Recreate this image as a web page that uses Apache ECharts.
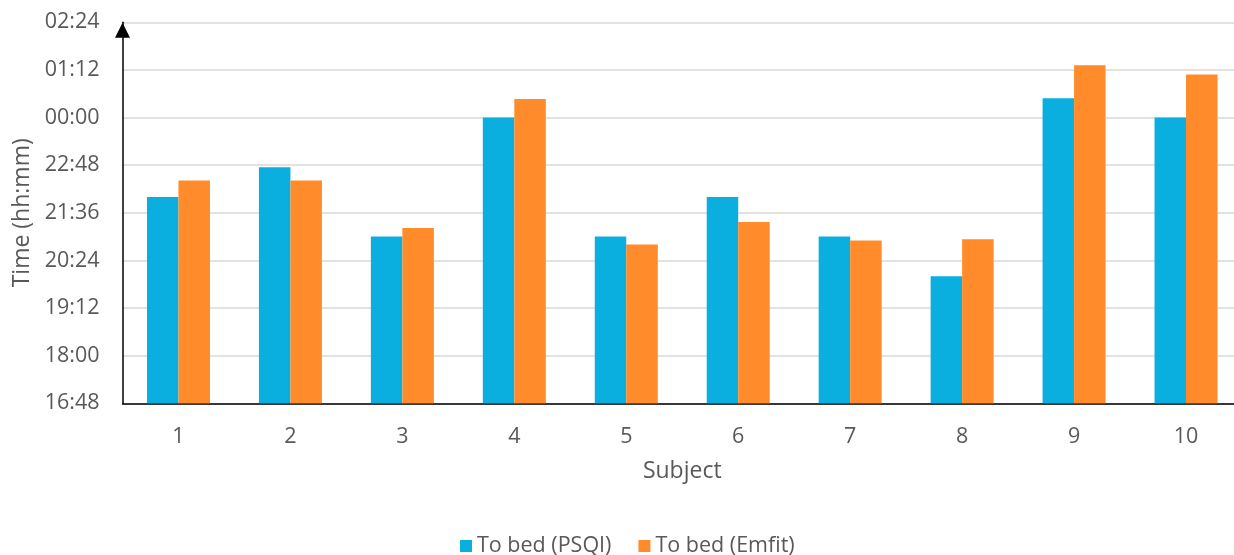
<!DOCTYPE html>
<html>
<head>
<meta charset="utf-8">
<script src="https://cdn.jsdelivr.net/npm/echarts@6/dist/echarts.min.js"></script>
<style>
html,body{margin:0;padding:0;background:#fff;}
#chart{width:1234px;height:555px;}
</style>
</head>
<body>
<div id="chart"></div>
<script>
// Data
var subjects = ['1','2','3','4','5','6','7','8','9','10'];
var toBedPSQI  = ['22:00','22:45','21:00','00:00','21:00','22:00','21:00','20:00','00:29','00:00'];
var toBedEmfit = ['22:25','22:25','21:13','00:28','20:48','21:22','20:54','20:56','01:19','01:05'];
var seriesNames = ['To bed (PSQI)','To bed (Emfit)'];
var yMin = 1008, yMax = 1584, yStep = 72; // minutes: 16:48 .. 02:24 (next day)

function toMinutes(s){
  var p = s.split(':');
  var m = parseInt(p[0],10)*60 + parseInt(p[1],10);
  if (m < 12*60) m += 24*60; // after midnight -> next day
  return m;
}
function fmt(v){
  v = ((Math.round(v) % 1440) + 1440) % 1440;
  var h = Math.floor(v/60), m = v % 60;
  return (h<10?'0':'')+h+':'+(m<10?'0':'')+m;
}

var font = '"Open Sans", "Noto Sans", sans-serif';
var grey = '#595959';
var chart = echarts.init(document.getElementById('chart'), null, {renderer:'canvas'});
chart.setOption({
  animation:false,
  backgroundColor:'#fff',
  textStyle:{fontFamily:font},
  grid:{left:122.5, width:1119.5, top:22.3, height:381, containLabel:false, outerBoundsMode:'none'},
  legend:{
    data:seriesNames,
    top:530,
    left:455,
    itemWidth:12, itemHeight:12, itemGap:27,
    icon:'rect',
    textStyle:{fontFamily:font, fontSize:21.5, color:grey}
  },
  xAxis:{
    type:'category',
    data:subjects,
    name:'Subject',
    nameLocation:'middle',
    nameGap:57,
    nameTextStyle:{fontFamily:font, fontSize:23, color:grey},
    axisLine:{lineStyle:{color:'#000', width:1.5}},
    axisTick:{show:false},
    axisLabel:{fontFamily:font, fontSize:21.5, color:grey, margin:23},
    splitLine:{show:false}
  },
  yAxis:{
    type:'value',
    min:yMin, max:yMax, interval:yStep,
    name:'Time (hh:mm)',
    nameLocation:'middle',
    nameGap:86,
    nameTextStyle:{fontFamily:font, fontSize:23, color:grey},
    axisLine:{show:true, symbol:['none','triangle'], symbolSize:[15,15], symbolOffset:[0,-8], lineStyle:{color:'#000', width:1.5}},
    axisTick:{show:false},
    axisLabel:{fontFamily:font, fontSize:21.5, color:grey, margin:23, formatter:fmt},
    splitLine:{lineStyle:{color:'#d9d9d9', width:1.5}}
  },
  series:[
    {name:seriesNames[0], type:'bar', barWidth:31.5, barGap:'0%', itemStyle:{color:'#0BAFDF'}, data:toBedPSQI.map(toMinutes)},
    {name:seriesNames[1], type:'bar', barWidth:31.5, barGap:'0%', itemStyle:{color:'#FF8B2A'}, data:toBedEmfit.map(toMinutes)}
  ]
});
</script>
</body>
</html>
